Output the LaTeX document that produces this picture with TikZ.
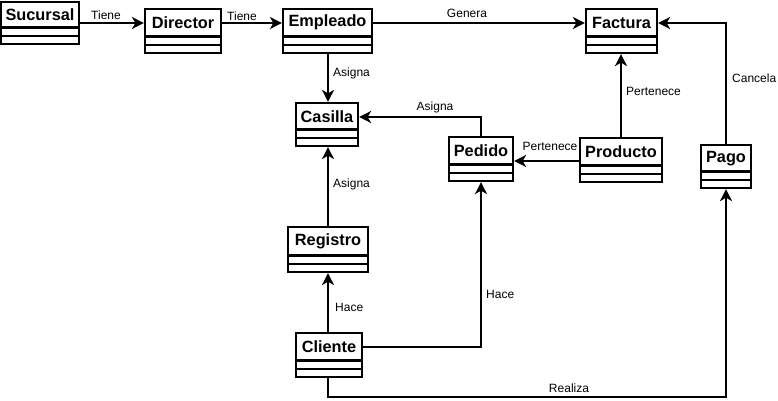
\documentclass[tikz,border=0pt]{standalone}
\usepackage{fontspec}
\setmainfont{Liberation Sans}
\usetikzlibrary{arrows.meta,calc}
\tikzset{
  clsbox/.style={draw,line width=2.2pt,inner sep=0pt,fill=white},
  boxline/.style={line width=2.2pt},
  clstext/.style={font=\fontsize{16.3}{17}\selectfont\bfseries,inner sep=0pt},
  lab/.style={font=\fontsize{12}{13}\selectfont,inner sep=0pt},
  arr/.style={line width=2.2pt,-{Stealth[length=12pt,width=12pt,inset=3.5pt]}},
}
\newcommand\umlcls[6]{%
  \pgfmathsetmacro\cw{#4-#2}\pgfmathsetmacro\ch{#5-#3}%
  \pgfmathsetmacro\la{#5-16.5}\pgfmathsetmacro\lb{#5-8}%
  \pgfmathsetmacro\cx{(#2+#4)/2}\pgfmathsetmacro\cy{(#3+#5)/2}%
  \pgfmathsetmacro\ty{(#3+\la)/2}%
  \node[clsbox,minimum width=\cw pt,minimum height=\ch pt] (#1) at (\cx,\cy) {};
  \draw[boxline] (#2,\la) -- (#4,\la) (#2,\lb) -- (#4,\lb);
  \node[clstext] (#1t) at (\cx,\ty) {#6};
}
\begin{document}
\begin{tikzpicture}[x=1pt,y=-1pt]
\useasboundingbox (0,0) rectangle (778,401);
\umlcls{suc}{1}{2}{79}{44}{Sucursal}
\umlcls{dir}{145}{9}{221}{53}{Director}
\umlcls{emp}{283}{9}{372}{53}{Empleado}
\umlcls{fac}{586}{9}{657}{53}{Factura}
\umlcls{cas}{296}{103}{358}{146}{Casilla}
\umlcls{ped}{449}{137}{513}{181}{Pedido}
\umlcls{pro}{580}{138}{662}{182}{Producto}
\umlcls{pago}{701}{145}{751}{188}{Pago}
\umlcls{reg}{288}{227}{368}{272}{Registro}
\umlcls{cli}{296}{333}{362}{377}{Cliente}

\coordinate (yTop) at (0,23);
\coordinate (yPed) at (0,117);
\coordinate (yPro) at (0,161);
\coordinate (yCli) at (0,347);
\coordinate (yBot) at (0,397);
\coordinate (xMid) at (328,0);

\draw[arr] (suc.east) -- (suc.east -| dir.west);
\node[lab] at (106,15) {Tiene};
\draw[arr] (dir.east |- yTop) -- (emp.west |- yTop);
\node[lab] at (242,16) {Tiene};
\draw[arr] (emp.east |- yTop) -- (fac.west |- yTop);
\node[lab] at (467,13) {Genera};
\draw[arr] (emp.south -| xMid) -- (cas.north -| xMid);
\node[lab,anchor=west] at (333,73) {Asigna};
\draw[arr] (ped.north) |- (cas.east |- yPed);
\node[lab] at (435,107) {Asigna};
\draw[arr] (pro.west |- yPro) -- (ped.east |- yPro);
\node[lab] at (550,146) {Pertenece};
\draw[arr] (pro.north) -- (fac.south -| pro.north);
\node[lab,anchor=west] at (626,91) {Pertenece};
\draw[arr] (pago.north) |- (fac.east |- yTop);
\node[lab,anchor=west] at (732,78) {Cancela};
\draw[arr] (reg.north -| xMid) -- (cas.south -| xMid);
\node[lab,anchor=west] at (333,184) {Asigna};
\draw[arr] (cli.north -| xMid) -- (reg.south -| xMid);
\node[lab,anchor=west] at (335,307) {Hace};
\draw[arr] (cli.east |- yCli) -| (ped.south);
\node[lab,anchor=west] at (486,294) {Hace};
\draw[arr] (cli.south -| xMid) -- (xMid |- yBot) -| (pago.south);
\node[lab] at (569,388) {Realiza};
\end{tikzpicture}
\end{document}
